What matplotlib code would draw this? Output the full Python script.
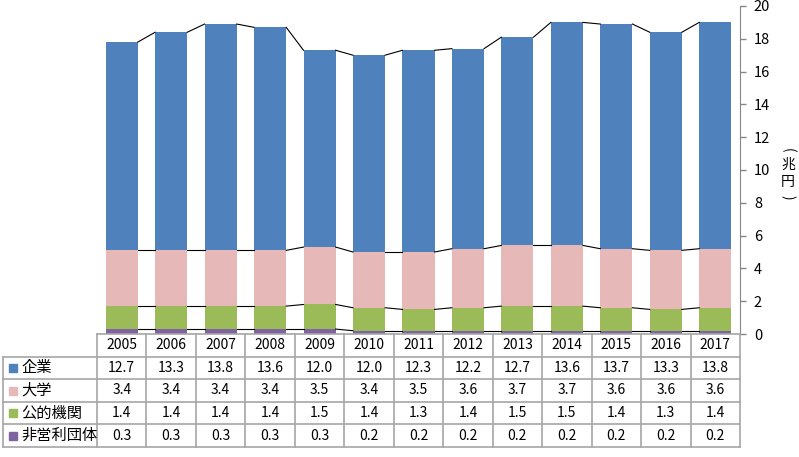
import numpy as np
import matplotlib
matplotlib.use("Agg")
import matplotlib.pyplot as plt

plt.rcParams["font.family"] = ["Noto Sans CJK JP", "DejaVu Sans"]

YEARS = ["2005", "2006", "2007", "2008", "2009", "2010", "2011",
         "2012", "2013", "2014", "2015", "2016", "2017"]
SERIES = ["企業", "大学", "公的機関", "非営利団体"]
CORP = [12.7, 13.3, 13.8, 13.6, 12.0, 12.0, 12.3, 12.2, 12.7, 13.6, 13.7, 13.3, 13.8]
UNIV = [3.4, 3.4, 3.4, 3.4, 3.5, 3.4, 3.5, 3.6, 3.7, 3.7, 3.6, 3.6, 3.6]
PUBLIC = [1.4, 1.4, 1.4, 1.4, 1.5, 1.4, 1.3, 1.4, 1.5, 1.5, 1.4, 1.3, 1.4]
NPO = [0.3, 0.3, 0.3, 0.3, 0.3, 0.2, 0.2, 0.2, 0.2, 0.2, 0.2, 0.2, 0.2]
COLORS = ["#4f81bd", "#e6b9b8", "#9bbb59", "#8064a2"]
GRID = "#a6a6a6"

W, H = 799, 457
fig = plt.figure(figsize=(W / 100, H / 100), dpi=100)

# plot area in pixel terms
left, right, top, base = 97, 740, 6, 334
ax = fig.add_axes([left / W, 1 - base / H, (right - left) / W, (base - top) / H])

x = np.arange(len(YEARS))
bw = 0.65
# stack from bottom: npo, public, univ, corp
stack = [NPO, PUBLIC, UNIV, CORP]
cols = [COLORS[3], COLORS[2], COLORS[1], COLORS[0]]
bottom = np.zeros(len(YEARS))
levels = []
for vals, c in zip(stack, cols):
    v = np.array(vals)
    ax.bar(x, v, bw, bottom=bottom, color=c, edgecolor="none", zorder=2)
    bottom = bottom + v
    levels.append(bottom.copy())

# series lines between bars
for lv in levels:
    for i in range(len(YEARS) - 1):
        ax.plot([x[i] + bw / 2, x[i + 1] - bw / 2], [lv[i], lv[i + 1]],
                color="black", lw=0.8, zorder=3)

ax.set_xlim(-0.5, len(YEARS) - 0.5)
ax.set_ylim(0, 20)
ax.set_yticks(range(0, 21, 2))
ax.yaxis.tick_right()
ax.tick_params(axis="y", direction="out", length=4, width=1, color="#868686",
               labelsize=10.5, pad=6, labelcolor="#000000")
ax.set_xticks([])
for s in ["left", "top", "bottom"]:
    ax.spines[s].set_visible(False)
ax.spines["right"].set_color("#868686")

# vertical unit label （兆円）
ux = 788 / W
fig.text(ux, 1 - 150 / H, "(", ha="center", va="center", fontsize=10, rotation=-90)
fig.text(ux, 1 - 165 / H, "兆", ha="center", va="center", fontsize=10)
fig.text(ux, 1 - 182 / H, "円", ha="center", va="center", fontsize=10)
fig.text(ux, 1 - 197 / H, ")", ha="center", va="center", fontsize=10, rotation=-90)

# data table below the plot
tab_left, tab_bottom = 3, 447
colw = (right - left) / len(YEARS)
nrow = len(SERIES) + 1
rowh = (tab_bottom - base) / nrow
tax = fig.add_axes([0, 0, 1, 1])
tax.set_xlim(0, W)
tax.set_ylim(H, 0)
tax.axis("off")

tax.plot([left, right], [base, base], color=GRID, lw=1.2)
for r in range(1, nrow + 1):
    y = base + r * rowh
    tax.plot([tab_left, right], [y, y], color=GRID, lw=1.2)
tax.plot([tab_left, tab_left], [base + rowh, tab_bottom], color=GRID, lw=1.2)
for c in range(len(YEARS) + 1):
    xx = left + c * colw
    tax.plot([xx, xx], [base, tab_bottom], color=GRID, lw=1.2)

for c, yr in enumerate(YEARS):
    tax.text(left + (c + 0.5) * colw, base + 0.5 * rowh, yr,
             ha="center", va="center", fontsize=10)

table_vals = [CORP, UNIV, PUBLIC, NPO]
for r, (name, vals, col) in enumerate(zip(SERIES, table_vals, COLORS)):
    yc = base + (r + 1.5) * rowh
    tax.add_patch(plt.Rectangle((9, yc - 4), 8, 8, color=col))
    tax.text(21, yc, name, ha="left", va="center", fontsize=11)
    for c, v in enumerate(vals):
        tax.text(left + (c + 0.5) * colw, yc, f"{v:.1f}",
                 ha="center", va="center", fontsize=10)

fig.savefig("out.png", dpi=100)
